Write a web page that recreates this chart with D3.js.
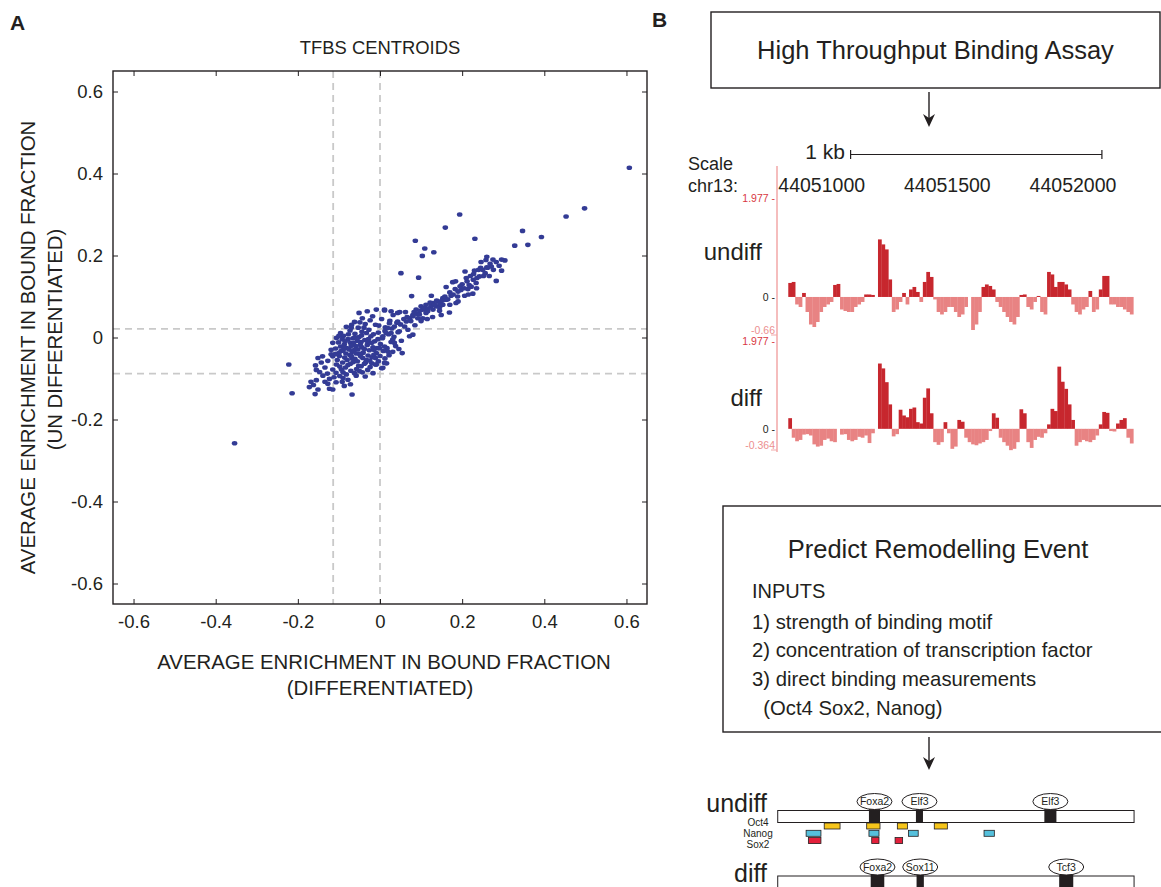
<!DOCTYPE html>
<html>
<head>
<meta charset="utf-8">
<script src="https://cdn.jsdelivr.net/npm/d3@7"></script>
<style>
  body { margin: 0; background: #fff; }
  svg text { font-family: "Liberation Sans", Arial, Helvetica, sans-serif; fill: #231f20; }
</style>
</head>
<body>
<div id="fig"></div>
<script>
(function(){
  // ---- Panel A data: TFBS centroids, [differentiated, undifferentiated]
  const tfbsCentroids = [
    // main cluster, top edge
    [-0.051,0.06],[-0.031,0.064],[-0.009,0.068],[0.011,0.066],[0.032,0.055],[0.048,0.062],[-0.043,0.047],
    [-0.018,0.052],[0.004,0.045],[0.024,0.041],[-0.062,0.038],[-0.036,0.033],[-0.011,0.031],[0.041,0.036],
    [0.013,0.025],[-0.053,0.024],
    // upper-left boundary
    [-0.082,0.026],[-0.096,0.011],[-0.106,-0.001],[-0.115,-0.013],[-0.119,-0.03],[-0.115,-0.046],
    [-0.106,-0.066],[-0.094,-0.078],[-0.082,-0.09],
    // cluster interior
    [-0.073,0.017],[-0.061,0.009],[-0.044,0.014],[-0.027,0.019],[-0.004,0.012],[0.021,0.008],[0.034,0.002],
    [-0.089,0.004],[-0.078,-0.004],[-0.066,-0.002],[-0.051,0.001],[-0.037,-0.006],[-0.022,0.003],[-0.013,-0.009],
    [0.006,-0.002],[0.027,-0.011],
    [-0.101,-0.012],[-0.087,-0.017],[-0.072,-0.013],[-0.059,-0.021],[-0.046,-0.011],[-0.031,-0.018],[-0.017,-0.024],
    [0.001,-0.016],[0.017,-0.026],[0.038,-0.021],
    [-0.108,-0.027],[-0.095,-0.033],[-0.081,-0.026],[-0.068,-0.035],[-0.054,-0.029],[-0.041,-0.037],[-0.026,-0.031],
    [-0.009,-0.038],[0.008,-0.033],[0.022,-0.043],
    [-0.099,-0.045],[-0.086,-0.049],[-0.073,-0.043],[-0.061,-0.052],[-0.047,-0.046],[-0.033,-0.055],[-0.019,-0.048],
    [-0.004,-0.058],[0.012,-0.051],
    [-0.091,-0.061],[-0.078,-0.067],[-0.065,-0.06],[-0.052,-0.069],[-0.038,-0.064],[-0.024,-0.072],[-0.011,-0.066],
    [0.004,-0.075],
    [-0.071,-0.081],[-0.057,-0.077],[-0.043,-0.085],[-0.03,-0.079],[-0.058,-0.093],
    [-0.069,0.031],[-0.049,0.037],[-0.024,0.042],[-0.003,0.029],[0.029,0.022],[-0.092,-0.004],[-0.064,-0.013],
    [-0.028,-0.004],[-0.007,-0.026],[-0.083,-0.039],[-0.05,-0.04],[-0.015,-0.042],[-0.104,-0.055],[-0.068,-0.051],
    [-0.035,-0.061],[-0.084,-0.073],[-0.046,-0.07],[-0.017,-0.087],[0.016,-0.063],[0.031,-0.035],[0.046,-0.028],
    [0.052,-0.008],[0.044,0.013],
    [-0.077,0.008],[-0.055,-0.008],[-0.039,0.024],[-0.02,-0.013],[0.012,0.016],[-0.096,-0.022],[-0.075,-0.029],
    [-0.044,-0.024],[-0.011,-0.05],[-0.058,-0.039],[-0.029,-0.044],[-0.098,-0.071],[-0.062,-0.087],[-0.036,-0.095],
    [-0.085,-0.01],[-0.07,-0.02],[-0.062,-0.03],[-0.048,-0.018],[-0.038,-0.028],[-0.03,-0.01],[-0.08,-0.055],
    [-0.07,-0.045],[-0.055,-0.058],[-0.042,-0.05],[-0.025,-0.056],[-0.015,-0.03],[-0.09,-0.032],[-0.1,-0.038],
    [-0.088,-0.025],[-0.062,0.0],[-0.045,0.005],[-0.033,0.011],[-0.016,0.008],[-0.005,-0.004],[0.0,-0.045],
    [-0.02,-0.063],[-0.072,-0.064],[-0.09,-0.085],[-0.05,-0.082],[-0.108,-0.04],[-0.1,0.004],[-0.07,0.024],
    // lower-left tail
    [-0.222,-0.066],[-0.214,-0.136],[-0.158,-0.138],[-0.068,-0.139],[-0.172,-0.121],[-0.168,-0.108],[-0.155,-0.104],
    [-0.151,-0.127],[-0.123,-0.125],[-0.115,-0.127],[-0.127,-0.113],[-0.107,-0.109],[-0.092,-0.108],[-0.078,-0.103],
    [-0.072,-0.114],[-0.123,-0.101],[-0.139,-0.093],[-0.147,-0.084],[-0.155,-0.079],[-0.157,-0.068],[-0.151,-0.05],
    [-0.14,-0.046],[-0.143,-0.061],[-0.134,-0.073],[-0.127,-0.057],[-0.119,-0.041],[-0.115,-0.078],[-0.107,-0.086],
    [-0.098,-0.094],[-0.09,-0.099],[-0.128,-0.088],[-0.112,-0.097],[-0.134,-0.108],[-0.162,-0.116],[-0.087,-0.118],
    [-0.354,-0.258],
    // diagonal band
    [0.246,0.184],[0.258,0.189],[0.283,0.184],[0.304,0.188],[0.271,0.173],[0.26,0.171],[0.25,0.165],
    [0.296,0.163],[0.23,0.163],[0.207,0.161],[0.242,0.149],[0.256,0.157],[0.266,0.15],[0.283,0.138],
    [0.227,0.141],[0.212,0.137],[0.234,0.133],[0.222,0.124],[0.184,0.137],[0.177,0.135],[0.161,0.123],
    [0.197,0.116],[0.214,0.118],[0.226,0.107],[0.206,0.102],[0.189,0.1],[0.173,0.102],[0.161,0.092],
    [0.153,0.096],[0.141,0.088],[0.129,0.084],[0.124,0.076],[0.112,0.08],[0.1,0.076],[0.104,0.068],
    [0.116,0.064],[0.137,0.076],[0.145,0.074],[0.129,0.068],[0.149,0.055],[0.169,0.061],[0.185,0.084],
    [0.153,0.08],[0.088,0.068],[0.08,0.055],[0.092,0.047],[0.104,0.047],[0.072,0.047],[0.064,0.039],
    [0.06,0.027],[0.068,0.019],[0.08,0.007],[0.072,0.003],[0.047,0.015],[0.035,0.027],[0.043,0.039],
    [0.023,0.035],[0.019,0.023],[0.015,0.011],[0.027,0.011],[0.007,0.003],[0.031,-0.005],[0.035,-0.013],
    [0.011,-0.022],[-0.001,-0.026],[0.019,-0.034],[0.011,-0.062],[0.007,-0.074],[-0.009,-0.066],[0.054,-0.038],
    [0.05,0.032],[0.058,0.045],[0.066,0.05],[0.075,0.04],[0.083,0.062],[0.09,0.058],[0.097,0.065],
    [0.108,0.072],[0.117,0.07],[0.122,0.085],[0.133,0.08],[0.138,0.09],[0.146,0.082],[0.152,0.09],
    [0.158,0.1],[0.165,0.093],[0.17,0.11],[0.178,0.105],[0.183,0.118],[0.19,0.112],[0.195,0.125],
    [0.2,0.13],[0.205,0.12],[0.21,0.145],[0.217,0.128],[0.22,0.15],[0.228,0.155],[0.236,0.145],
    [0.24,0.165],[0.245,0.17],[0.252,0.15],[0.262,0.17],[0.268,0.18],[0.276,0.165],[0.29,0.175],
    [0.296,0.19],[0.275,0.19],[0.26,0.197],[0.235,0.12],[0.215,0.105],[0.19,0.088],[0.17,0.08],
    [0.145,0.065],[0.128,0.05],[0.115,0.045],[0.1,0.04],[0.085,0.03],
    [0.011,0.068],[0.027,0.064],[0.043,0.06],[0.062,0.062],[0.08,0.052],[0.096,0.056],[0.112,0.06],
    // outliers above the band
    [0.194,0.3],[0.159,0.268],[0.086,0.236],[0.109,0.217],[0.103,0.199],[0.131,0.208],[0.231,0.241],
    [0.347,0.26],[0.328,0.224],[0.36,0.226],[0.393,0.245],[0.453,0.295],[0.498,0.315],[0.607,0.414],
    [0.051,0.157],[0.094,0.146],[0.077,0.101],[0.125,0.102]
  ];
  const cutoffsDiff = [-0.114, 0];       // vertical dashed lines
  const cutoffsUndiff = [0.021, -0.088]; // horizontal dashed lines
  const axisTicks = [-0.6, -0.4, -0.2, 0, 0.2, 0.4, 0.6];

  // ---- Panel B data: browser tracks (bins of equal width across the locus)
  const trackRange = [44050867, 44052240];
  const chromTicks = [44051000, 44051500, 44052000];
  const scaleBar = [44051115, 44052115];
  const undiffSignal = [
    0.28,0.3,-0.15,-0.2,0.08,-0.3,-0.55,-0.6,-0.5,-0.3,
    -0.2,-0.15,-0.1,0.24,0.26,-0.25,-0.28,-0.3,-0.3,-0.2,
    -0.15,-0.1,0.05,0.05,0.04,0,1.15,1.05,0.95,0.35,
    -0.3,-0.25,-0.1,0.08,-0.15,0.15,0.2,0.1,-0.1,0.3,
    0.5,0.4,-0.05,-0.3,-0.35,-0.3,-0.2,-0.2,-0.3,-0.4,
    -0.35,-0.2,0,-0.66,-0.55,-0.3,0.2,0.25,0.22,0.15,
    -0.1,-0.2,-0.3,-0.4,-0.5,-0.55,-0.4,0.04,0.05,-0.2,
    -0.25,-0.1,0.02,-0.3,-0.35,0.5,0.45,0.2,0.3,0.3,
    0.25,0.15,-0.15,-0.3,-0.35,-0.25,-0.2,0.12,-0.3,-0.25,
    0.15,0.42,0.42,-0.15,-0.15,-0.2,-0.2,-0.25,-0.3,-0.35
  ];
  const diffSignal = [
    0.24,-0.2,-0.28,-0.25,-0.13,-0.12,-0.15,-0.35,-0.4,-0.38,
    -0.25,-0.22,-0.28,-0.3,0,-0.13,-0.12,-0.25,-0.28,-0.25,
    -0.18,-0.2,-0.15,-0.32,-0.1,0,1.47,1.36,1.05,0.55,
    -0.17,-0.12,0.43,0.3,0.26,0.45,0.48,0.15,0.12,0.7,
    0.91,0.35,-0.3,-0.36,-0.3,0.15,-0.1,-0.45,-0.4,0.2,
    0.16,-0.2,-0.3,-0.35,-0.37,-0.33,-0.3,-0.25,-0.05,0.35,
    0.25,-0.2,-0.3,-0.38,-0.48,-0.45,-0.3,0.44,0.35,-0.3,
    -0.43,-0.25,-0.18,-0.2,-0.1,0.1,0.45,0.4,1.4,1.06,
    0.9,0.55,0.2,-0.38,-0.3,-0.25,-0.28,-0.3,-0.25,-0.15,
    0.1,0.38,0.36,-0.05,-0.06,0.12,0.2,0.24,-0.2,-0.33
  ];
  const undiffRange = [-0.66, 1.977];
  const diffRange = [-0.364, 1.977];

  // ---- Panel B data: predicted remodelling
  const inputItems = [
    "1) strength of binding motif",
    "2) concentration of transcription factor",
    "3) direct binding measurements",
    "  (Oct4 Sox2, Nanog)"
  ];
  const locusRange = [44050825, 44052243];
  const undiffSites = [
    {name: "Foxa2", pos: 44051210, width: 44},
    {name: "Elf3",  pos: 44051389, width: 28},
    {name: "Elf3",  pos: 44051910, width: 48}
  ];
  const diffSites = [
    {name: "Foxa2", pos: 44051222, width: 54},
    {name: "Sox11", pos: 44051392, width: 29},
    {name: "Tcf3",  pos: 44051973, width: 56}
  ];
  const escFactors = ["Oct4", "Nanog", "Sox2"];
  const escColors = ["#f6c51b", "#55c0dc", "#e3203b"];
  const oct4Sites = [[44051010,44051073],[44051179,44051232],[44051301,44051341],[44051448,44051500]];
  const nanogSites = [[44050938,44050997],[44051188,44051228],[44051345,44051384],[44051646,44051687]];
  const sox2Sites = [[44050947,44050997],[44051199,44051228],[44051292,44051322]];

  const W = 1161, H = 887;
  const svg = d3.select("#fig").append("svg")
    .attr("width", W).attr("height", H)
    .attr("viewBox", `0 0 ${W} ${H}`);

  // ================= Panel A =================
  const plot = {left: 113, right: 647, top: 71, bottom: 604};
  const x = d3.scaleLinear().domain([-0.65, 0.65]).range([plot.left, plot.right]);
  const y = d3.scaleLinear().domain([-0.65, 0.65]).range([plot.bottom, plot.top]);
  const fmt = d => d === 0 ? "0" : d.toFixed(1);

  svg.append("text").attr("x", 10).attr("y", 30)
    .style("font-size", "21px").style("font-weight", "bold").text("A");
  svg.append("text").attr("x", (plot.left + plot.right) / 2).attr("y", 54)
    .attr("text-anchor", "middle").style("font-size", "18.4px").text("TFBS CENTROIDS");

  const gA = svg.append("g");
  // dashed cut-off lines
  gA.selectAll(".vcut").data(cutoffsDiff).enter().append("line")
    .attr("x1", d => x(d)).attr("x2", d => x(d))
    .attr("y1", plot.top).attr("y2", plot.bottom)
    .attr("stroke", "#c9c9c9").attr("stroke-width", 1.8).attr("stroke-dasharray", "7,5");
  gA.selectAll(".hcut").data(cutoffsUndiff).enter().append("line")
    .attr("y1", d => y(d)).attr("y2", d => y(d))
    .attr("x1", plot.left).attr("x2", plot.right)
    .attr("stroke", "#c9c9c9").attr("stroke-width", 1.8).attr("stroke-dasharray", "7,5");

  gA.selectAll("ellipse.dot").data(tfbsCentroids).enter().append("ellipse")
    .attr("class", "dot")
    .attr("cx", d => x(d[0])).attr("cy", d => y(d[1]))
    .attr("rx", 2.8).attr("ry", 2.3)
    .attr("fill", "#333b95");

  // axes, ticks pointing inward on all four sides
  const styleAxis = g => {
    g.select(".domain").remove();
    g.selectAll(".tick line").attr("stroke", "#231f20").attr("stroke-width", 1);
    g.selectAll(".tick text").style("font-size", "18.5px")
      .style("font-family", '"Liberation Sans", Arial, sans-serif').attr("fill", "#231f20");
  };
  gA.append("g").attr("transform", `translate(0,${plot.bottom})`)
    .call(d3.axisBottom(x).tickValues(axisTicks).tickFormat(fmt).tickSize(-5).tickPadding(11))
    .call(styleAxis);
  gA.append("g").attr("transform", `translate(${plot.left},0)`)
    .call(d3.axisLeft(y).tickValues(axisTicks).tickFormat(fmt).tickSize(-5).tickPadding(10))
    .call(styleAxis);
  gA.append("g").attr("transform", `translate(0,${plot.top})`)
    .call(d3.axisTop(x).tickValues(axisTicks).tickFormat("").tickSize(-5))
    .call(styleAxis);
  gA.append("g").attr("transform", `translate(${plot.right},0)`)
    .call(d3.axisRight(y).tickValues(axisTicks).tickFormat("").tickSize(-5))
    .call(styleAxis);
  gA.append("rect").attr("x", plot.left).attr("y", plot.top)
    .attr("width", plot.right - plot.left).attr("height", plot.bottom - plot.top)
    .attr("fill", "none").attr("stroke", "#231f20").attr("stroke-width", 1.4);

  const cx = (plot.left + plot.right) / 2, cy = (plot.top + plot.bottom) / 2;
  svg.append("text").attr("x", cx + 4).attr("y", 669).attr("text-anchor", "middle")
    .style("font-size", "20.4px").text("AVERAGE ENRICHMENT IN BOUND FRACTION");
  svg.append("text").attr("x", cx).attr("y", 695).attr("text-anchor", "middle")
    .style("font-size", "20.4px").text("(DIFFERENTIATED)");
  svg.append("text").attr("transform", `translate(35,${cy + 10}) rotate(-90)`).attr("text-anchor", "middle")
    .style("font-size", "20.4px").text("AVERAGE ENRICHMENT IN BOUND FRACTION");
  svg.append("text").attr("transform", `translate(62,${cy + 2}) rotate(-90)`).attr("text-anchor", "middle")
    .style("font-size", "20.4px").text("(UN DIFFERENTIATED)");

  // ================= Panel B =================
  svg.append("text").attr("x", 652).attr("y", 27)
    .style("font-size", "21px").style("font-weight", "bold").text("B");

  const arrow = (ax, y0, y1) => {
    svg.append("line").attr("x1", ax).attr("x2", ax).attr("y1", y0).attr("y2", y1 - 6)
      .attr("stroke", "#231f20").attr("stroke-width", 1.4);
    svg.append("path")
      .attr("d", `M${ax - 6},${y1 - 13} L${ax},${y1} L${ax + 6},${y1 - 13} L${ax},${y1 - 9} Z`)
      .attr("fill", "#231f20");
  };

  // box 1
  svg.append("rect").attr("x", 711).attr("y", 12).attr("width", 449).attr("height", 76)
    .attr("fill", "none").attr("stroke", "#231f20").attr("stroke-width", 1.4);
  svg.append("text").attr("x", 935.5).attr("y", 59).attr("text-anchor", "middle")
    .style("font-size", "25.5px").text("High Throughput Binding Assay");
  arrow(929, 92, 127);

  // genome browser
  const g = d3.scaleLinear().domain([44051000, 44052000]).range([821.7, 1073]);
  const gb = svg.append("g");
  gb.append("text").attr("x", 845).attr("y", 159).attr("text-anchor", "end")
    .style("font-size", "21px").text("1 kb");
  gb.append("line").attr("x1", g(scaleBar[0])).attr("x2", g(scaleBar[1]))
    .attr("y1", 154.5).attr("y2", 154.5).attr("stroke", "#231f20").attr("stroke-width", 1.2);
  gb.selectAll(".sbtick").data(scaleBar).enter().append("line")
    .attr("x1", d => g(d)).attr("x2", d => g(d)).attr("y1", 150).attr("y2", 159)
    .attr("stroke", "#231f20").attr("stroke-width", 1.2);
  gb.append("text").attr("x", 688).attr("y", 170).style("font-size", "18px").text("Scale");
  gb.append("text").attr("x", 688).attr("y", 192).style("font-size", "18px").text("chr13:");
  gb.selectAll(".pos").data(chromTicks).enter().append("text")
    .attr("x", d => g(d)).attr("y", 192).attr("text-anchor", "middle")
    .style("font-size", "19.5px").text(d => d);

  // red data-range axis
  gb.append("line").attr("x1", 777).attr("x2", 777).attr("y1", 166).attr("y2", 452)
    .attr("stroke", "#f2a7a7").attr("stroke-width", 1.5);

  const nBins = undiffSignal.length;
  const binBp = (trackRange[1] - trackRange[0]) / nBins;

  function drawTrack(values, range, yTop, yBottom, label, labelY) {
    const ys = d3.scaleLinear().domain(range).range([yBottom, yTop]);
    const y0 = ys(0);
    gb.selectAll(null).data(values).enter().append("rect")
      .attr("x", (d, i) => g(trackRange[0] + i * binBp))
      .attr("width", (d, i) => g(trackRange[0] + (i + 1) * binBp) - g(trackRange[0] + i * binBp) + 0.3)
      .attr("y", d => d >= 0 ? ys(d) : y0)
      .attr("height", d => Math.abs(ys(d) - y0))
      .attr("fill", d => d >= 0 ? "#c7272e" : "#e88383");
    const lab = [
      {v: range[1], t: range[1] + " -", c: "#d8383f"},
      {v: 0, t: "0 -", c: "#231f20"},
      {v: range[0], t: String(range[0]), c: "#ec8f8f"}
    ];
    gb.selectAll(null).data(lab).enter().append("text")
      .attr("x", 775).attr("y", d => ys(d.v)).attr("dy", "0.35em")
      .attr("text-anchor", "end").style("font-size", "10.5px")
      .style("fill", d => d.c).text(d => d.t);
    gb.append("line").attr("x1", 771).attr("x2", 777).attr("y1", yBottom + 5).attr("y2", yBottom + 5)
      .attr("stroke", "#f2a7a7").attr("stroke-width", 1);
    gb.append("text").attr("x", 762).attr("y", labelY).attr("text-anchor", "end")
      .style("font-size", "24px").text(label);
  }
  drawTrack(undiffSignal, undiffRange, 198, 330, "undiff", 260);
  drawTrack(diffSignal, diffRange, 341, 445, "diff", 406);

  // box 2
  svg.append("rect").attr("x", 723).attr("y", 506).attr("width", 445).attr("height", 226)
    .attr("fill", "none").attr("stroke", "#231f20").attr("stroke-width", 1.4);
  svg.append("text").attr("x", 938).attr("y", 558).attr("text-anchor", "middle")
    .style("font-size", "25.5px").text("Predict Remodelling Event");
  svg.append("text").attr("x", 752).attr("y", 598).style("font-size", "20px").text("INPUTS");
  svg.selectAll(".inp").data(inputItems).enter().append("text")
    .attr("x", 752).attr("y", (d, i) => 628.5 + i * 28.7)
    .attr("xml:space", "preserve")
    .style("font-size", "20.3px").style("white-space", "pre").text(d => d);
  arrow(929, 737, 770);

  // site diagrams
  const sd = svg.append("g");
  function drawLocus(sites, barY, label, labelY, ellY) {
    sd.append("text").attr("x", 767).attr("y", labelY).attr("text-anchor", "end")
      .style("font-size", "25px").text(label);
    sd.append("rect").attr("x", g(locusRange[0])).attr("y", barY)
      .attr("width", g(locusRange[1]) - g(locusRange[0])).attr("height", 12)
      .attr("fill", "#fff").attr("stroke", "#231f20").attr("stroke-width", 1);
    sd.selectAll(null).data(sites).enter().append("rect")
      .attr("x", d => g(d.pos - d.width / 2)).attr("width", d => g(d.pos + d.width / 2) - g(d.pos - d.width / 2))
      .attr("y", ellY + 7).attr("height", barY + 12 - ellY - 7)
      .attr("fill", "#231f20");
    sd.selectAll(null).data(sites).enter().append("ellipse")
      .attr("cx", d => g(d.pos)).attr("cy", ellY).attr("rx", 17.5).attr("ry", 8)
      .attr("fill", "#fff").attr("stroke", "#231f20").attr("stroke-width", 1);
    sd.selectAll(null).data(sites).enter().append("text")
      .attr("x", d => g(d.pos)).attr("y", ellY).attr("dy", "0.35em").attr("text-anchor", "middle")
      .style("font-size", "10.5px").text(d => d.name);
  }
  drawLocus(undiffSites, 810.5, "undiff", 812, 801.5);
  drawLocus(diffSites, 876, "diff", 882, 867);

  const escRows = [oct4Sites, nanogSites, sox2Sites];
  escRows.forEach((sites, r) => {
    const top = 823 + r * 7.3;
    sd.selectAll(null).data(sites).enter().append("rect")
      .attr("x", d => g(d[0])).attr("width", d => g(d[1]) - g(d[0]))
      .attr("y", top).attr("height", 6)
      .attr("fill", escColors[r]).attr("stroke", "#231f20").attr("stroke-width", 0.8);
    sd.append("text").attr("x", 758).attr("y", 822 + r * 11).attr("dy", "0.35em")
      .attr("text-anchor", "middle").style("font-size", "10px").text(escFactors[r]);
  });
})();
</script>
</body>
</html>
